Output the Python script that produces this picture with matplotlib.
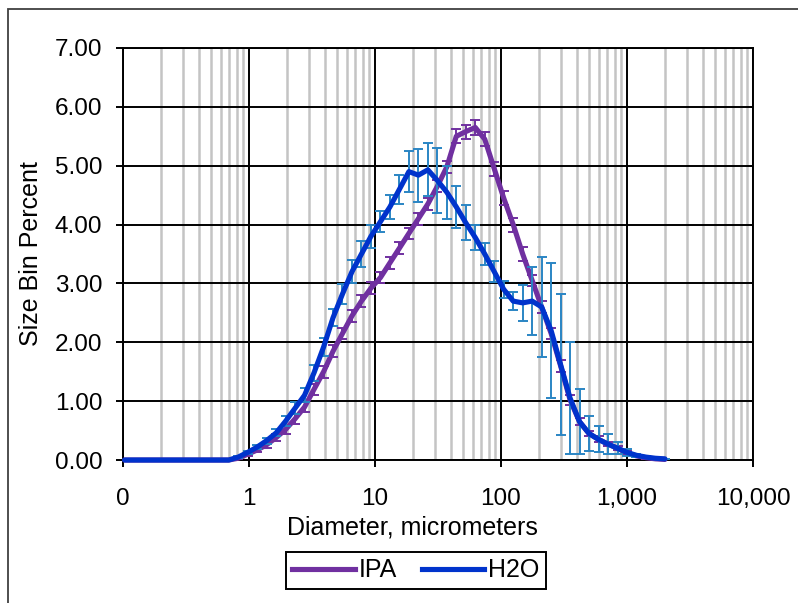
import matplotlib as mpl
mpl.use('Agg')
import matplotlib.pyplot as plt
from matplotlib.lines import Line2D
from matplotlib.patches import Rectangle
from matplotlib.ticker import FixedLocator, FixedFormatter, FormatStrFormatter, NullFormatter

plt.rcParams['font.family'] = ['Liberation Sans', 'DejaVu Sans']

# bin diameters, micrometers (ascending)
diam = [0.103, 0.122, 0.145, 0.173, 0.205, 0.244, 0.290, 0.345, 0.411, 0.488,
        0.581, 0.691, 0.821, 0.977, 1.161, 1.381, 1.642, 1.953, 2.32, 2.76,
        3.28, 3.91, 4.65, 5.52, 6.57, 7.81, 9.29, 11.05, 13.14, 15.63,
        18.58, 22.10, 26.28, 31.25, 37.16, 44.19, 52.56, 62.5, 74.33, 88.39,
        105.1, 125.0, 148.7, 176.8, 210.2, 250.0, 297.3, 353.6, 420.4, 500.0,
        594.6, 707.1, 840.9, 1000.0, 1189.2, 1414.2, 1681.8, 2000.0]

ipa = [0, 0, 0, 0, 0, 0, 0, 0, 0, 0,
       0, 0, 0.03, 0.10, 0.17, 0.26, 0.38, 0.52, 0.70, 0.90,
       1.20, 1.50, 1.85, 2.15, 2.45, 2.70, 2.92, 3.10, 3.35, 3.60,
       3.85, 4.10, 4.35, 4.65, 4.98, 5.50, 5.58, 5.65, 5.45, 4.95,
       4.45, 4.00, 3.50, 3.05, 2.60, 2.15, 1.60, 1.02, 0.65, 0.45,
       0.35, 0.27, 0.20, 0.12, 0.07, 0.04, 0.02, 0.01]

ipa_err = [0, 0, 0, 0, 0, 0, 0, 0, 0, 0,
           0, 0, 0.02, 0.03, 0.04, 0.05, 0.06, 0.07, 0.08, 0.08,
           0.09, 0.10, 0.10, 0.10, 0.10, 0.10, 0.10, 0.10, 0.10, 0.10,
           0.10, 0.10, 0.10, 0.10, 0.10, 0.12, 0.12, 0.12, 0.12, 0.12,
           0.12, 0.12, 0.12, 0.10, 0.10, 0.10, 0.10, 0.08, 0.06, 0.05,
           0.05, 0.04, 0.03, 0.03, 0.02, 0.02, 0.01, 0.0]

h2o = [0, 0, 0, 0, 0, 0, 0, 0, 0, 0,
       0, 0, 0.05, 0.13, 0.22, 0.33, 0.46, 0.66, 0.88, 1.10,
       1.48, 1.92, 2.42, 2.82, 3.20, 3.50, 3.80, 4.05, 4.30, 4.60,
       4.90, 4.84, 4.93, 4.75, 4.55, 4.30, 4.03, 3.78, 3.50, 3.20,
       2.90, 2.70, 2.67, 2.70, 2.60, 2.20, 1.62, 1.05, 0.65, 0.45,
       0.35, 0.27, 0.20, 0.13, 0.08, 0.05, 0.03, 0.02]

h2o_err = [0, 0, 0, 0, 0, 0, 0, 0, 0, 0,
           0, 0, 0.02, 0.03, 0.04, 0.05, 0.06, 0.08, 0.10, 0.12,
           0.14, 0.15, 0.15, 0.17, 0.20, 0.22, 0.20, 0.18, 0.20, 0.25,
           0.35, 0.45, 0.45, 0.55, 0.45, 0.35, 0.30, 0.22, 0.18, 0.18,
           0.15, 0.15, 0.30, 0.58, 0.85, 1.15, 1.20, 0.95, 0.55, 0.30,
           0.22, 0.17, 0.10, 0.06, 0.03, 0.02, 0.01, 0.0]

xticks = [0.1, 1, 10, 100, 1000, 10000]
xticklabels = ['0', '1', '10', '100', '1,000', '10,000']

PURPLE = '#7030A0'
BLUE = '#0033CC'
EBLUE = '#2A85C4'
LW = 3.7
FS = 18

fig = plt.figure(figsize=(7.98, 6.03), dpi=100)
ax = fig.add_axes([0.1541, 0.2371, 0.7895, 0.6833])

# IPA series first, then H2O on top
ax.errorbar(diam, ipa, yerr=ipa_err, fmt='none', ecolor=PURPLE, elinewidth=1.4,
            capsize=3.5, capthick=1.4, zorder=3)
ax.plot(diam, ipa, color=PURPLE, linewidth=LW, solid_capstyle='round',
        solid_joinstyle='round', zorder=4, clip_on=False)
ax.errorbar(diam, h2o, yerr=h2o_err, fmt='none', ecolor=EBLUE, elinewidth=1.4,
            capsize=3.5, capthick=1.4, zorder=5)
ax.plot(diam, h2o, color=BLUE, linewidth=LW, solid_capstyle='round',
        solid_joinstyle='round', zorder=6, clip_on=False)

ax.set_xscale('log')
ax.set_xlim(0.1, 10000)
ax.set_ylim(0, 7)

ax.xaxis.set_major_locator(FixedLocator(xticks))
ax.xaxis.set_major_formatter(FixedFormatter(xticklabels))
ax.xaxis.set_minor_formatter(NullFormatter())
ax.yaxis.set_major_locator(FixedLocator(range(0, 8)))
ax.yaxis.set_major_formatter(FormatStrFormatter('%.2f'))

ax.grid(which='minor', axis='x', color='#C4C4C4', linewidth=1.8, zorder=0)
ax.grid(which='major', axis='both', color='black', linewidth=1.4, zorder=1)
ax.set_axisbelow(True)
ax.tick_params(which='minor', length=0)
ax.tick_params(axis='x', which='major', direction='out', length=5, width=1.4, pad=15, labelsize=FS - 0.5)
ax.tick_params(axis='y', which='major', direction='out', length=5, width=1.4, pad=10, labelsize=FS - 0.5)
for s in ax.spines.values():
    s.set_color('black')
    s.set_linewidth(1.4)

ax.set_xlabel('Diameter, micrometers', fontsize=FS)
ax.xaxis.set_label_coords(0.459, -0.163)
ax.xaxis.label.set_va('center')
ax.set_ylabel('Size Bin Percent', fontsize=FS)
ax.yaxis.set_label_coords(-0.146, 0.5)
ax.yaxis.label.set_va('center')

handles = [Line2D([], [], color=PURPLE, linewidth=LW), Line2D([], [], color=BLUE, linewidth=LW)]
leg = fig.legend(handles, ['IPA', 'H2O'], ncol=2, loc='center', bbox_to_anchor=(0.5213, 0.0539),
                 fontsize=FS, frameon=True, fancybox=False, framealpha=1, edgecolor='black',
                 handlelength=2.5, handletextpad=0.15, columnspacing=1.0, borderpad=0.25,
                 borderaxespad=0)
leg.get_frame().set_linewidth(1.4)

# outer chart border
fig.patches.append(Rectangle((7.5 / 798, -0.01), 1.0, 1 - 9 / 603 + 0.01, transform=fig.transFigure,
                             fill=False, edgecolor='#404040', linewidth=1.3))

fig.savefig('out.png', dpi=100)
